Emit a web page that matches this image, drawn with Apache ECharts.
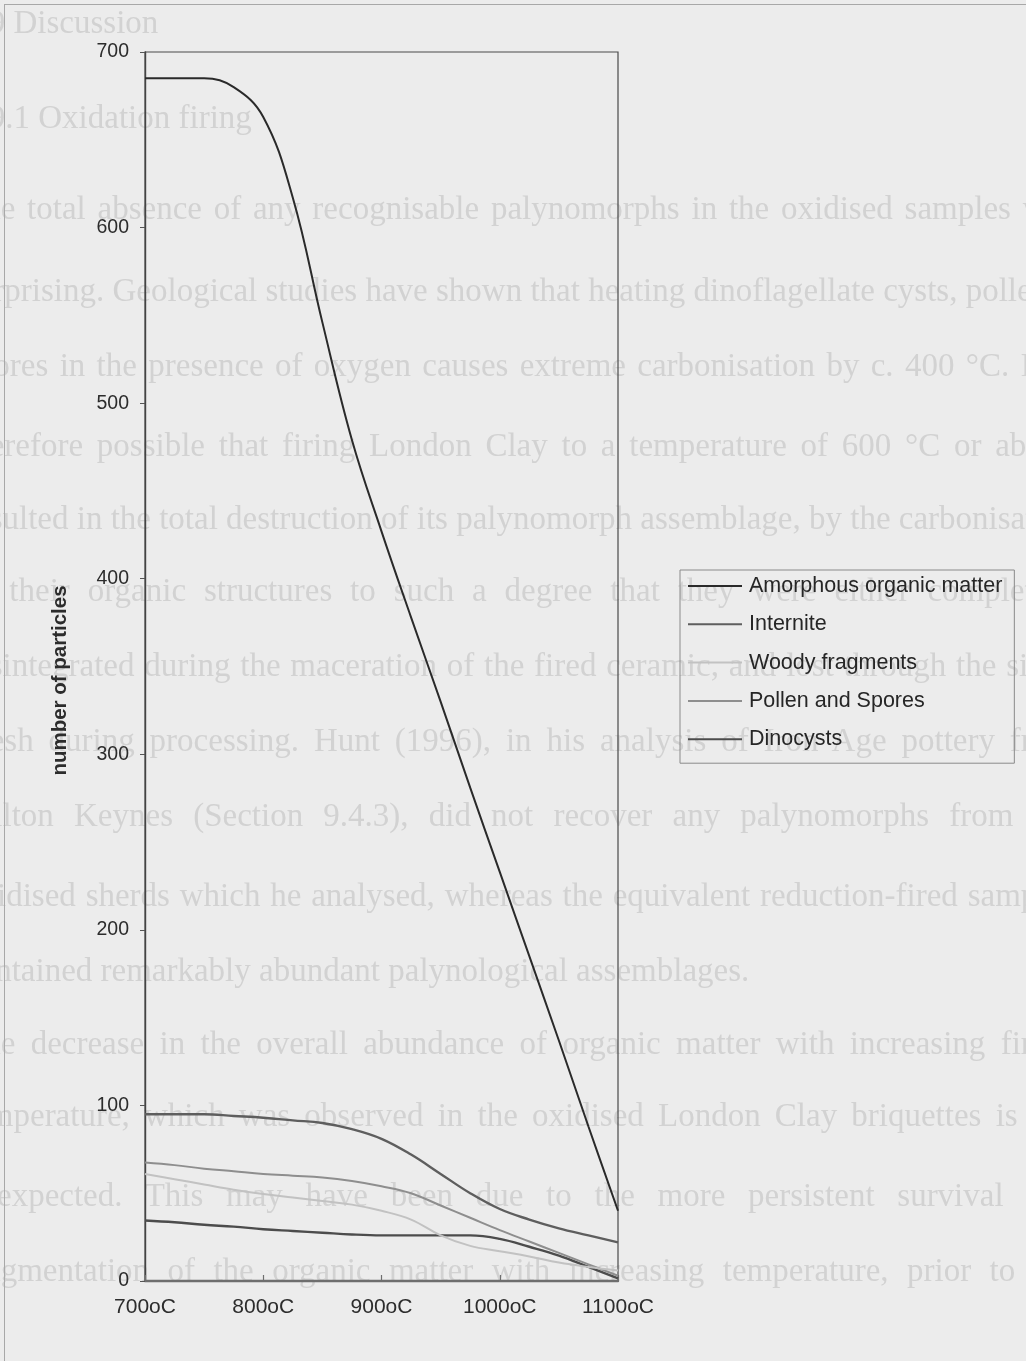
<!DOCTYPE html>
<html>
<head>
<meta charset="utf-8">
<script src="https://cdn.jsdelivr.net/npm/echarts@6/dist/echarts.min.js"></script>
<style>
  html, body { margin: 0; padding: 0; background: #ececec; overflow: hidden; }
  #page { position: relative; width: 1026px; height: 1361px; overflow: hidden; background: #ececec; }
  #bleed { position: absolute; left: 0; top: 0; width: 1026px; height: 1361px; filter: blur(0.6px); }
  .ln { position: absolute; font-family: "Liberation Serif", "DejaVu Serif", serif; font-size: 33px; line-height: 38px; color: #d2d2d2; white-space: nowrap; }
  .just { text-align: justify; text-align-last: justify; }
  #frame { position: absolute; left: 4px; top: 4px; width: 1100px; height: 1400px; border-left: 1px solid #a8a8a8; border-top: 1px solid #a8a8a8; }
  #chart { position: absolute; left: 0; top: 0; width: 1026px; height: 1361px; }
</style>
</head>
<body>
<div id="page">
  <div id="bleed"></div>
  <div id="frame"></div>
  <div id="chart"></div>
</div>
<script>
// Firing temperatures (°C) at which the samples were counted
const temperatures = [700, 725, 750, 775, 800, 825, 850, 875, 900, 925, 950, 975, 1000, 1025, 1050, 1075, 1100];

// Particle counts per organic matter category
const amorphousOrganicMatter = [685, 685, 685, 680, 663, 617, 546, 479, 427, 378, 330, 281, 233, 185, 137, 88, 40];
const internite = [95, 95, 95, 94, 93, 91.5, 90, 86.5, 81, 72, 61, 50, 41, 35, 30, 26, 22];
const woodyFragments = [61, 58, 55, 52, 49.5, 47.5, 45.5, 43.5, 40, 35, 26, 20, 17, 14, 10.5, 8, 6];
const pollenAndSpores = [67.5, 66, 64, 62.5, 61, 60, 59, 57, 54, 50, 43, 36, 29, 22.5, 16, 9.5, 3];
const dinocysts = [34.5, 33.5, 32, 31, 29.5, 28.5, 27.5, 26.5, 26, 26, 26, 26, 24, 19.5, 14.5, 8, 1.5];

const seriesNames = ['Amorphous organic matter', 'Internite', 'Woody fragments', 'Pollen and Spores', 'Dinocysts'];
const yTicks = [0, 100, 200, 300, 400, 500, 600, 700];
const xTickUnit = 'oC';

// Page text printed behind the figure
const pageLines = [
  { y: 22,   text: '9.9 Discussion', just: false },
  { y: 117,  text: '9.9.1 Oxidation firing', just: false },
  { y: 208,  text: 'The total absence of any recognisable palynomorphs in the oxidised samples was', just: true },
  { y: 290,  text: 'surprising. Geological studies have shown that heating dinoflagellate cysts, pollen and', just: true },
  { y: 365,  text: 'spores in the presence of oxygen causes extreme carbonisation by c. 400 °C. It is', just: true },
  { y: 445,  text: 'therefore possible that firing London Clay to a temperature of 600 °C or above', just: true },
  { y: 518,  text: 'resulted in the total destruction of its palynomorph assemblage, by the carbonisation', just: true },
  { y: 590,  text: 'of their organic structures to such a degree that they were either completely', just: true },
  { y: 665,  text: 'disintegrated during the maceration of the fired ceramic, and lost through the sieve', just: true },
  { y: 740,  text: 'mesh during processing. Hunt (1996), in his analysis of Iron Age pottery from', just: true },
  { y: 815,  text: 'Milton Keynes (Section 9.4.3), did not recover any palynomorphs from the', just: true },
  { y: 895,  text: 'oxidised sherds which he analysed, whereas the equivalent reduction-fired samples', just: true },
  { y: 970,  text: 'contained remarkably abundant palynological assemblages.', just: false },
  { y: 1043, text: 'The decrease in the overall abundance of organic matter with increasing firing', just: true },
  { y: 1115, text: 'temperature, which was observed in the oxidised London Clay briquettes is not', just: true },
  { y: 1195, text: 'unexpected. This may have been due to the more persistent survival and', just: true },
  { y: 1270, text: 'fragmentation of the organic matter with increasing temperature, prior to the', just: true }
];

const bleed = document.getElementById('bleed');
pageLines.forEach(function (l) {
  const d = document.createElement('div');
  d.className = 'ln' + (l.just ? ' just' : '');
  d.style.left = '-36px';
  d.style.top = (l.y - 19) + 'px';
  if (l.just) d.style.width = '1110px';
  d.textContent = l.text;
  bleed.appendChild(d);
});

function pairs(values) {
  return values.map(function (v, i) { return [temperatures[i], v]; });
}

const styles = [
  { color: '#2a2a2a', width: 2 },
  { color: '#5e5e5e', width: 2.4 },
  { color: '#c2c2c2', width: 2 },
  { color: '#8e8e8e', width: 2 },
  { color: '#4c4c4c', width: 2.4 }
];
const values = [amorphousOrganicMatter, internite, woodyFragments, pollenAndSpores, dinocysts];

const chart = echarts.init(document.getElementById('chart'), null, { renderer: 'canvas' });
chart.setOption({
  animation: false,
  backgroundColor: 'transparent',
  textStyle: { fontFamily: 'Liberation Sans, Arial, sans-serif' },
  grid: {
    left: 145, right: 408, top: 52, bottom: 80,
    show: true, borderColor: '#4a4a4a', borderWidth: 1.2, backgroundColor: 'transparent'
  },
  legend: {
    orient: 'vertical',
    left: 680, top: 570,
    icon: 'rect',
    itemWidth: 54, itemHeight: 2,
    itemGap: 14.3,
    padding: [4, 12, 12, 8],
    borderColor: '#8a8a8a', borderWidth: 1,
    backgroundColor: 'transparent',
    data: seriesNames,
    textStyle: { fontSize: 21.5, color: '#262626', lineHeight: 24, padding: [0, 0, 0, 2], fontFamily: 'Liberation Sans, Arial, sans-serif' }
  },
  xAxis: {
    type: 'value',
    min: temperatures[0], max: temperatures[temperatures.length - 1], interval: 100,
    axisLine: { lineStyle: { color: '#6e6e6e', width: 2.4 } },
    axisTick: { inside: true, length: 6, lineStyle: { color: '#6e6e6e', width: 1.2 } },
    axisLabel: {
      formatter: function (v) { return v + xTickUnit; },
      fontSize: 21, color: '#2c2c2c', margin: 16, showMinLabel: true, showMaxLabel: true
    },
    splitLine: { show: false }
  },
  yAxis: {
    type: 'value',
    min: yTicks[0], max: yTicks[yTicks.length - 1], interval: yTicks[1] - yTicks[0],
    name: 'number of particles',
    nameLocation: 'middle', nameGap: 74,
    nameTextStyle: { fontSize: 20.5, fontWeight: 'bold', color: '#2c2c2c', padding: [0, 28, 0, 0] },
    axisLine: { show: true, lineStyle: { color: '#444', width: 1.4 } },
    axisTick: { show: true, length: 5, lineStyle: { color: '#555' } },
    axisLabel: { fontSize: 19.5, color: '#2c2c2c', margin: 16, showMinLabel: true, showMaxLabel: true },
    splitLine: { show: false }
  },
  series: seriesNames.map(function (name, i) {
    return {
      name: name,
      type: 'line',
      data: pairs(values[i]),
      symbol: 'none',
      smooth: 0.4,
      lineStyle: { color: styles[i].color, width: styles[i].width },
      itemStyle: { color: styles[i].color },
      z: 10 - i
    };
  })
});
</script>
</body>
</html>
